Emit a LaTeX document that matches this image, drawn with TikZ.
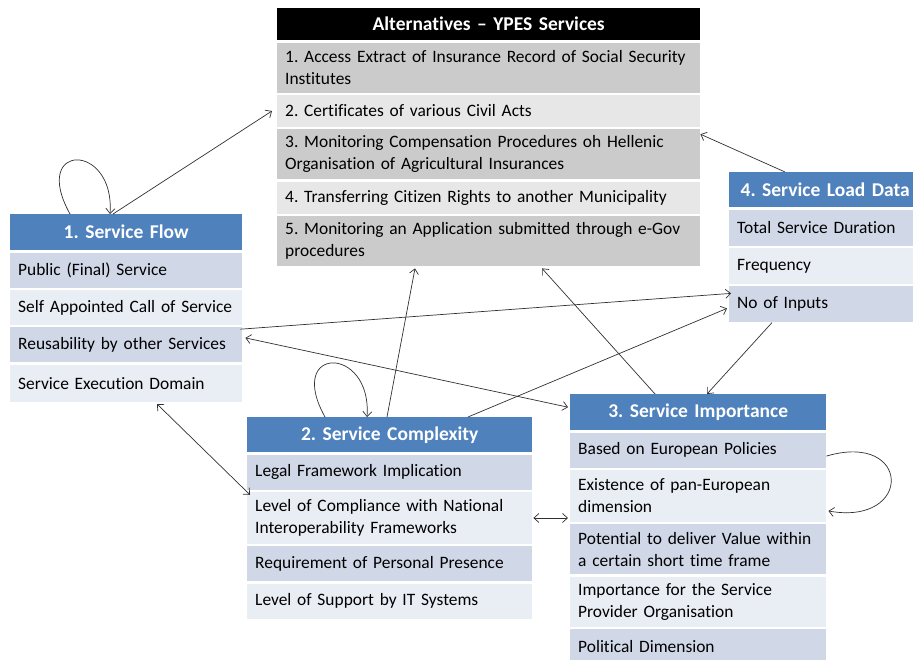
\documentclass[tikz,border=0pt]{standalone}
\usepackage{fontspec}
\setmainfont{Carlito}[Ligatures={TeX,NoCommon}]
\usepackage{tikz}
\usetikzlibrary{positioning,calc,arrows.meta}
\frenchspacing
\definecolor{hdrBlue}{HTML}{4F81BD}
\definecolor{rowBlueA}{HTML}{D0D8E8}
\definecolor{rowBlueB}{HTML}{E9EDF4}
\definecolor{rowGrayA}{HTML}{CBCBCB}
\definecolor{rowGrayB}{HTML}{E7E7E7}
\definecolor{lineGray}{HTML}{303030}
\tikzset{
  hdrCell/.style={
    rectangle,
    fill=hdrBlue,
    text=white,
    font=\fontsize{19.5}{22}\selectfont\bfseries,
    align=center,
    inner xsep=8pt,
    inner ysep=0pt
  },
  altTitle/.style={
    rectangle,
    fill=black,
    text=white,
    font=\fontsize{19.5}{22}\selectfont\bfseries,
    align=center,
    inner xsep=8pt,
    inner ysep=0pt
  },
  bodyCell/.style={
    rectangle,
    font=\fontsize{17.4}{22}\selectfont,
    align=left,
    inner xsep=8pt,
    inner ysep=0pt,
    minimum height=35pt
  },
  rowDark/.style={bodyCell, fill=rowBlueA},
  rowLight/.style={bodyCell, fill=rowBlueB},
  altDark/.style={bodyCell, fill=rowGrayA},
  altLight/.style={bodyCell, fill=rowGrayB},
  linkArrow/.style={
    -{Straight Barb[length=5pt,width=9pt]},
    draw=lineGray,
    line width=0.7pt
  },
  linkBoth/.style={
    {Straight Barb[length=5pt,width=9pt]}-{Straight Barb[length=5pt,width=9pt]},
    draw=lineGray,
    line width=0.7pt
  }
}

\begin{document}
\begin{tikzpicture}[x=1pt,y=1pt]
    \useasboundingbox (0,0) rectangle (913,660);

    % Alternatives
    \begin{scope}[every node/.append style={text width=407pt}]
        \node[altTitle, anchor=north west, minimum height=32pt] (altHead) at (277,652) {Alternatives – YPES Services};
        \node[altDark, below=2pt of altHead, minimum height=50pt] (alt1) {1. Access Extract of Insurance Record of Social Security\\Institutes};
        \node[altLight, below=2pt of alt1, minimum height=32pt] (alt2) {2. Certificates of various Civil Acts};
        \node[altDark, below=2pt of alt2, minimum height=50pt] (alt3) {3. Monitoring Compensation Procedures oh Hellenic\\Organisation of Agricultural Insurances};
        \node[altLight, below=2pt of alt3, minimum height=32pt] (alt4) {4. Transferring Citizen Rights to another Municipality};
        \node[altDark, below=2pt of alt4, minimum height=50pt] (alt5) {5. Monitoring an Application submitted through e-Gov\\procedures};
    \end{scope}

    % 1. Service Flow
    \begin{scope}[every node/.append style={text width=216pt}]
        \node[hdrCell, anchor=north west, minimum height=36pt] (sfHead) at (10,446) {1. Service Flow};
        \node[rowDark, below=2pt of sfHead] (sf1) {Public (Final) Service};
        \node[rowLight, below=2pt of sf1] (sf2) {Self Appointed Call of Service};
        \node[rowDark, below=2pt of sf2] (sf3) {Reusability by other Services};
        \node[rowLight, below=2pt of sf3, minimum height=37pt] (sf4) {Service Execution Domain};
    \end{scope}

    % 4. Service Load Data
    \begin{scope}[every node/.append style={text width=176pt}]
        \node[hdrCell, anchor=north west, minimum height=35pt] (sldHead) at (729,488) {4. Service Load Data};
        \node[rowDark, below=2pt of sldHead, minimum height=36pt] (sld1) {Total Service Duration};
        \node[rowLight, below=2pt of sld1, minimum height=36pt] (sld2) {Frequency};
        \node[rowDark, below=2pt of sld2, minimum height=36pt] (sld3) {No of Inputs};
    \end{scope}

    % 2. Service Complexity
    \begin{scope}[every node/.append style={text width=269pt}]
        \node[hdrCell, anchor=north west, minimum height=35pt] (scHead) at (247,243) {2. Service Complexity};
        \node[rowDark, below=2pt of scHead] (sc1) {Legal Framework Implication};
        \node[rowLight, below=2pt of sc1, minimum height=52pt] (sc2) {Level of Compliance with National\\Interoperability Frameworks};
        \node[rowDark, below=2pt of sc2] (sc3) {Requirement of Personal Presence};
        \node[rowLight, below=2pt of sc3] (sc4) {Level of Support by IT Systems};
    \end{scope}

    % 3. Service Importance
    \begin{scope}[every node/.append style={text width=240pt}]
        \node[hdrCell, anchor=north west, minimum height=36pt] (siHead) at (570,266) {3. Service Importance};
        \node[rowDark, below=2pt of siHead] (si1) {Based on European Policies};
        \node[rowLight, below=2pt of si1, minimum height=52pt] (si2) {Existence of pan-European\\dimension};
        \node[rowDark, below=2pt of si2, minimum height=50pt] (si3) {Potential to deliver Value within\\a certain short time frame};
        \node[rowLight, below=2pt of si3, minimum height=50pt] (si4) {Importance for the Service\\Provider Organisation};
        \node[rowDark, below=2pt of si4] (si5) {Political Dimension};
    \end{scope}

    % loop ends
    \coordinate (sfLoopA) at ([xshift=60pt]sfHead.north west);
    \coordinate (sfLoopB) at ([xshift=100pt]sfHead.north west);
    \coordinate (scLoopA) at ([xshift=78pt]scHead.north west);
    \coordinate (scLoopB) at ([xshift=120pt]scHead.north west);
    \coordinate (siLoopA) at ([yshift=-6pt]si1.east);
    \coordinate (siLoopB) at ([xshift=2pt,yshift=-15pt]si2.east);

    \draw[linkArrow] (sfLoopA) .. controls ($(sfLoopA)+(-40,72)$) and ($(sfLoopB)+(5,72)$) .. (sfLoopB);
    \draw[linkArrow] (scLoopA) .. controls ($(scLoopA)+(-40,72)$) and ($(scLoopB)+(5,72)$) .. (scLoopB);
    \draw[linkArrow] (siLoopA) .. controls ($(siLoopA)+(85,25)$) and ($(siLoopB)+(85,-15)$) .. (siLoopB);

    \draw[linkArrow] ([xshift=103pt]sfHead.north west) -- ([xshift=-5pt]alt2.west);
    \draw[linkArrow] ([xshift=56pt]sldHead.north west) -- ([yshift=-5pt]alt3.north east);
    \draw[linkBoth] ([xshift=3pt,yshift=7pt]sf3.east) -- ([xshift=-2pt,yshift=5pt]siHead.west);
    \draw[linkArrow] ([xshift=-2pt,yshift=-2pt]sf3.north east) -- ([xshift=2pt,yshift=11pt]sld3.west);
    \draw[linkBoth] ([xshift=147pt,yshift=-2pt]sf4.south west) -- ([xshift=3pt,yshift=-3pt]sc2.north west);
    \draw[linkArrow] ([xshift=140pt]scHead.north west) -- ([xshift=138pt,yshift=-2pt]alt5.south west);
    \draw[linkArrow] ([xshift=221pt]scHead.north west) -- ([xshift=-2pt,yshift=-4pt]sld3.west);
    \draw[linkArrow] ([xshift=85pt]siHead.north west) -- ([xshift=265pt,yshift=-2pt]alt5.south west);
    \draw[linkArrow] ([xshift=43pt]sld3.south west) -- ([xshift=137pt]siHead.north west);
    \draw[linkBoth] ([xshift=1pt]sc2.east) -- ([xshift=-2pt]sc2.east -| si2.west);
\end{tikzpicture}
\end{document}
